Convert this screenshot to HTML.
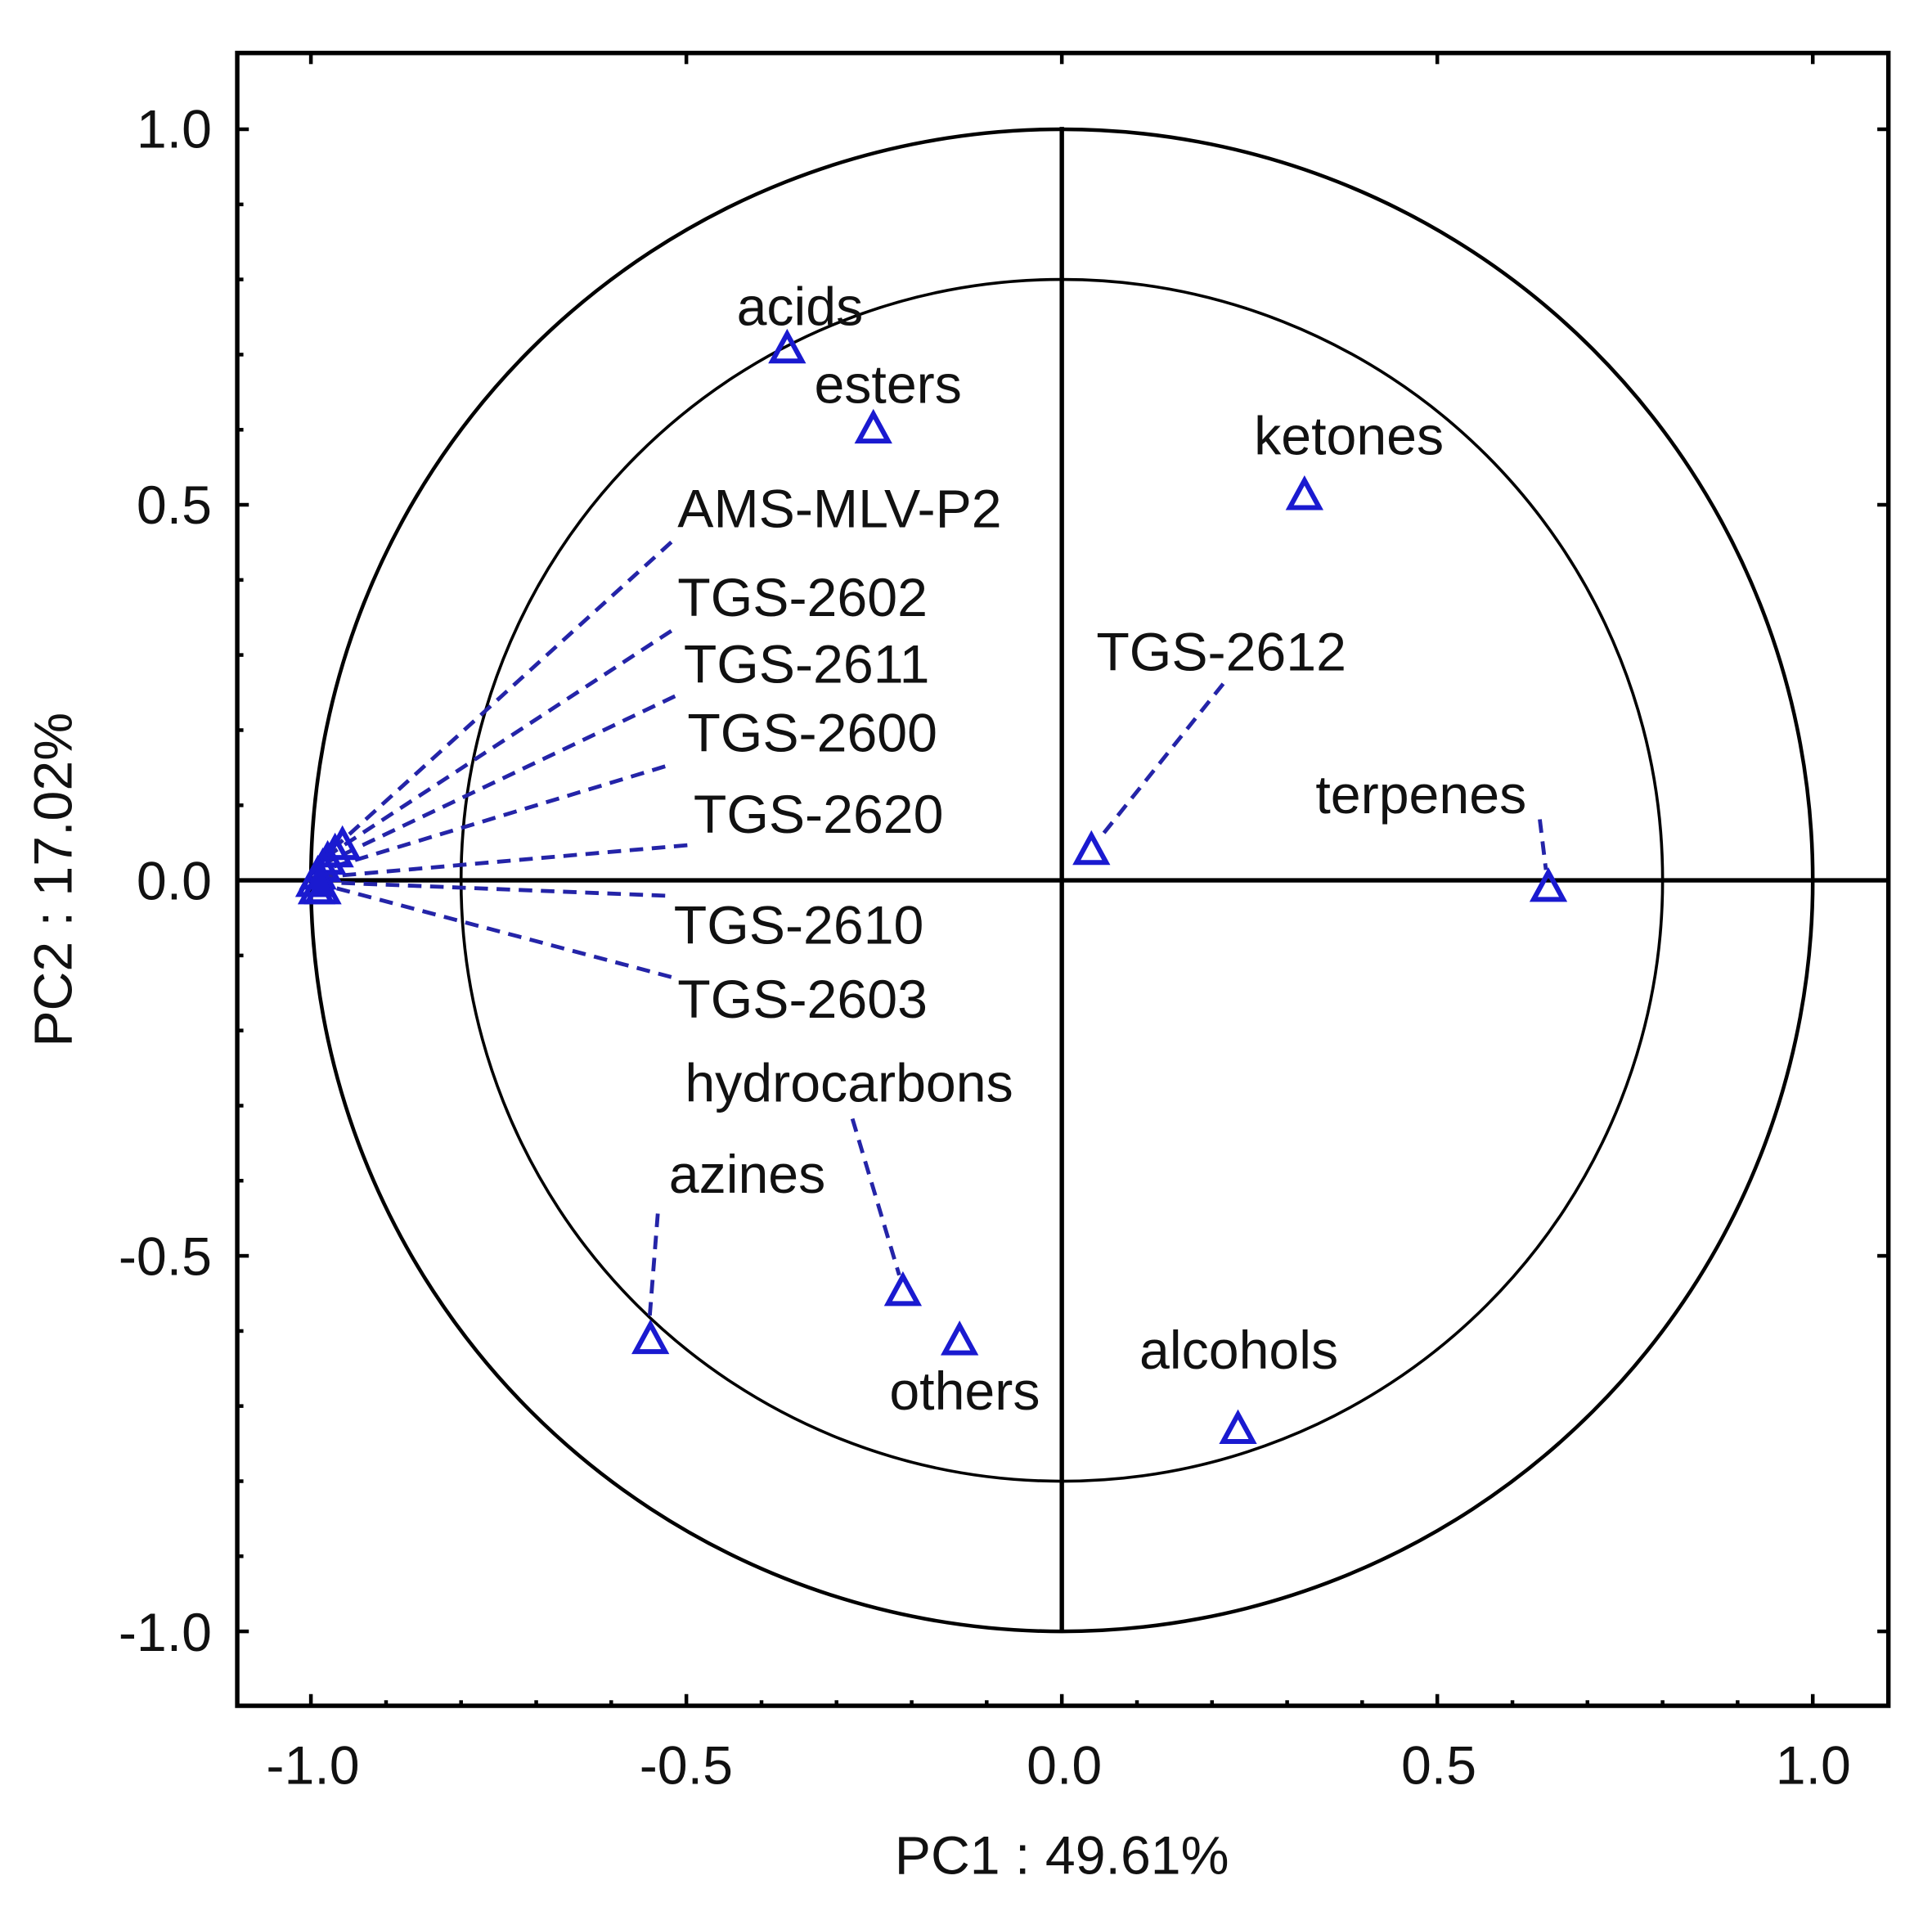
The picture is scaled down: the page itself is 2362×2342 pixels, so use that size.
<!DOCTYPE html>
<html><head><meta charset="utf-8"><style>html,body{margin:0;padding:0;background:#fff}svg{display:block}</style></head>
<body>
<svg width="2362" height="2342" viewBox="0 0 1568.4 1555.1" xmlns="http://www.w3.org/2000/svg" font-family="Liberation Sans, Arial, sans-serif" font-size="44" fill="#111">
<defs>
<path id="tri" d="M0,-12 L12,10 L-12,10 Z" fill="none" stroke="#1a1ad0" stroke-width="4" stroke-linejoin="miter"/>
</defs>
<rect x="0" y="0" width="1568.4" height="1555.1" fill="#fff"/>
<circle cx="862" cy="714.5" r="609.6" fill="none" stroke="#000" stroke-width="3"/>
<circle cx="862" cy="714.5" r="487.7" fill="none" stroke="#000" stroke-width="2.4"/>
<line x1="862" y1="103" x2="862" y2="1324" stroke="#000" stroke-width="3.6"/>
<line x1="192.6" y1="714.5" x2="1533" y2="714.5" stroke="#000" stroke-width="3.6"/>
<rect x="192.6" y="43" width="1340.4" height="1341.5" fill="none" stroke="#000" stroke-width="3.6"/>
<g stroke="#000" stroke-width="3">
<line x1="252.4" y1="1384.5" x2="252.4" y2="1375"/><line x1="313.4" y1="1384.5" x2="313.4" y2="1380"/><line x1="374.3" y1="1384.5" x2="374.3" y2="1380"/><line x1="435.3" y1="1384.5" x2="435.3" y2="1380"/><line x1="496.2" y1="1384.5" x2="496.2" y2="1380"/><line x1="557.2" y1="1384.5" x2="557.2" y2="1375"/><line x1="618.2" y1="1384.5" x2="618.2" y2="1380"/><line x1="679.1" y1="1384.5" x2="679.1" y2="1380"/><line x1="740.1" y1="1384.5" x2="740.1" y2="1380"/><line x1="801" y1="1384.5" x2="801" y2="1380"/><line x1="862" y1="1384.5" x2="862" y2="1375"/><line x1="923" y1="1384.5" x2="923" y2="1380"/><line x1="983.9" y1="1384.5" x2="983.9" y2="1380"/><line x1="1044.9" y1="1384.5" x2="1044.9" y2="1380"/><line x1="1105.8" y1="1384.5" x2="1105.8" y2="1380"/><line x1="1166.8" y1="1384.5" x2="1166.8" y2="1375"/><line x1="1227.8" y1="1384.5" x2="1227.8" y2="1380"/><line x1="1288.7" y1="1384.5" x2="1288.7" y2="1380"/><line x1="1349.7" y1="1384.5" x2="1349.7" y2="1380"/><line x1="1410.6" y1="1384.5" x2="1410.6" y2="1380"/><line x1="1471.6" y1="1384.5" x2="1471.6" y2="1375"/>
<line x1="252.4" y1="43" x2="252.4" y2="52"/><line x1="557.2" y1="43" x2="557.2" y2="52"/><line x1="862" y1="43" x2="862" y2="52"/><line x1="1166.8" y1="43" x2="1166.8" y2="52"/><line x1="1471.6" y1="43" x2="1471.6" y2="52"/>
<line x1="192.6" y1="104.9" x2="202" y2="104.9"/><line x1="192.6" y1="409.7" x2="202" y2="409.7"/><line x1="192.6" y1="714.5" x2="202" y2="714.5"/><line x1="192.6" y1="1019.3" x2="202" y2="1019.3"/><line x1="192.6" y1="1324.1" x2="202" y2="1324.1"/>
<line x1="1533" y1="104.9" x2="1524" y2="104.9"/><line x1="1533" y1="409.7" x2="1524" y2="409.7"/><line x1="1533" y1="714.5" x2="1524" y2="714.5"/><line x1="1533" y1="1019.3" x2="1524" y2="1019.3"/><line x1="1533" y1="1324.1" x2="1524" y2="1324.1"/>
<line x1="192.6" y1="165.9" x2="197.6" y2="165.9"/><line x1="192.6" y1="226.8" x2="197.6" y2="226.8"/><line x1="192.6" y1="287.8" x2="197.6" y2="287.8"/><line x1="192.6" y1="348.8" x2="197.6" y2="348.8"/><line x1="192.6" y1="470.7" x2="197.6" y2="470.7"/><line x1="192.6" y1="531.6" x2="197.6" y2="531.6"/><line x1="192.6" y1="592.6" x2="197.6" y2="592.6"/><line x1="192.6" y1="653.6" x2="197.6" y2="653.6"/><line x1="192.6" y1="775.5" x2="197.6" y2="775.5"/><line x1="192.6" y1="836.4" x2="197.6" y2="836.4"/><line x1="192.6" y1="897.4" x2="197.6" y2="897.4"/><line x1="192.6" y1="958.3" x2="197.6" y2="958.3"/><line x1="192.6" y1="1080.3" x2="197.6" y2="1080.3"/><line x1="192.6" y1="1141.2" x2="197.6" y2="1141.2"/><line x1="192.6" y1="1202.2" x2="197.6" y2="1202.2"/><line x1="192.6" y1="1263.1" x2="197.6" y2="1263.1"/>
</g>
<g text-anchor="middle">
<text x="254" y="1448">-1.0</text><text x="557" y="1448">-0.5</text><text x="864" y="1448">0.0</text><text x="1168" y="1448">0.5</text><text x="1472" y="1448">1.0</text>
</g>
<g text-anchor="end">
<text x="172" y="120">1.0</text><text x="172" y="425">0.5</text><text x="172" y="730">0.0</text><text x="172" y="1035">-0.5</text><text x="172" y="1340">-1.0</text>
</g>
<text x="862" y="1521" text-anchor="middle">PC1 : 49.61%</text>
<text transform="translate(58,714) rotate(-90)" text-anchor="middle">PC2 : 17.02%</text>
<g stroke="#2424a8" stroke-width="3.2" stroke-dasharray="11,7" fill="none">
<line x1="545" y1="440" x2="276" y2="684"/>
<line x1="545" y1="512" x2="270" y2="692"/>
<line x1="548" y1="565" x2="265" y2="700"/>
<line x1="540" y1="622" x2="262" y2="706"/>
<line x1="558" y1="686" x2="260" y2="712"/>
<line x1="540" y1="727" x2="262" y2="716"/>
<line x1="545" y1="793" x2="262" y2="718"/>
<line x1="993" y1="555" x2="893" y2="680"/>
<line x1="1250" y1="665" x2="1255" y2="706"/>
<line x1="692" y1="908" x2="730" y2="1035"/>
<line x1="534" y1="985" x2="527" y2="1074"/>
</g>
<use href="#tri" x="639" y="283"/>
<use href="#tri" x="709" y="348"/>
<use href="#tri" x="1059" y="402"/>
<use href="#tri" x="886" y="690"/>
<use href="#tri" x="1257" y="720"/>
<use href="#tri" x="733" y="1048"/>
<use href="#tri" x="779" y="1088"/>
<use href="#tri" x="528" y="1087"/>
<use href="#tri" x="1005" y="1160"/>
<use href="#tri" x="278" y="686"/>
<use href="#tri" x="272" y="692"/>
<use href="#tri" x="266" y="698"/>
<use href="#tri" x="262" y="704"/>
<use href="#tri" x="258" y="710"/>
<use href="#tri" x="255" y="716"/>
<use href="#tri" x="257" y="722"/>
<use href="#tri" x="262" y="722"/>
<g fill="#1a1ad0"><path d="M252,728 L262,700 L272,728 Z"/><path d="M250,722 L260,698 L268,722 Z"/></g>
<g>
<text x="598" y="264">acids</text>
<text x="661" y="327">esters</text>
<text x="1018" y="369">ketones</text>
<text x="550" y="428">AMS-MLV-P2</text>
<text x="550" y="500">TGS-2602</text>
<text x="555" y="554">TGS-2611</text>
<text x="558" y="610">TGS-2600</text>
<text x="563" y="676">TGS-2620</text>
<text x="890" y="544">TGS-2612</text>
<text x="1068" y="660">terpenes</text>
<text x="547" y="766">TGS-2610</text>
<text x="550" y="826">TGS-2603</text>
<text x="556" y="894">hydrocarbons</text>
<text x="543" y="968">azines</text>
<text x="925" y="1111">alcohols</text>
<text x="722" y="1144">others</text>
</g>
</svg>
</body></html>
